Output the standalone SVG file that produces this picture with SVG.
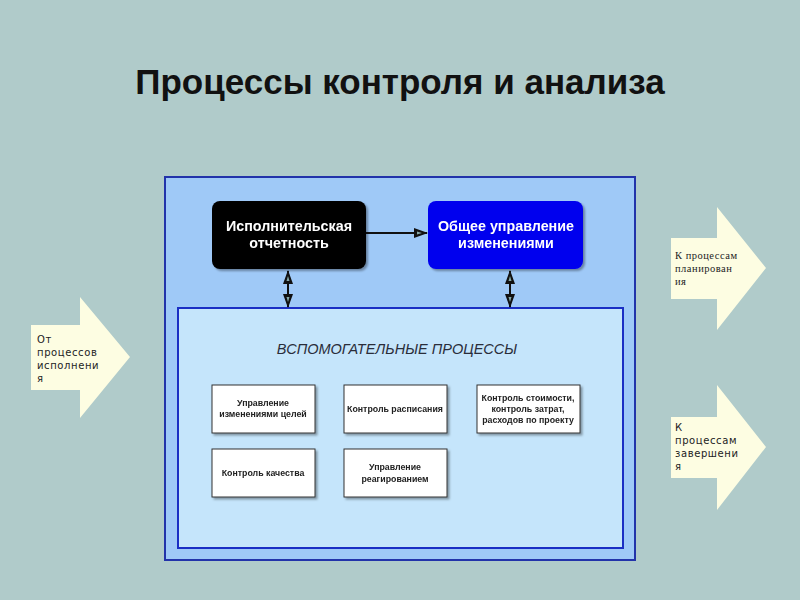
<svg xmlns="http://www.w3.org/2000/svg" width="800" height="600" viewBox="0 0 800 600">
<defs>
<style>
.title{font-family:"Liberation Sans",Arial,sans-serif;font-size:35px;font-weight:bold;fill:#111;text-anchor:middle}
.big{font-family:"Liberation Sans",Arial,sans-serif;font-size:14.3px;font-weight:bold;fill:#fff;text-anchor:middle}
.small{font-family:"Liberation Sans",Arial,sans-serif;font-size:8.8px;font-weight:bold;fill:#222;text-anchor:middle}
.arrtxt{font-family:"DejaVu Sans",Verdana,sans-serif;font-size:10px;fill:#222;letter-spacing:0.6px}
.arrser{font-family:"Liberation Serif","Times New Roman",serif;font-size:10.5px;fill:#222;letter-spacing:0.5px}
.sub{font-family:"Liberation Sans",Arial,sans-serif;font-size:14.5px;font-style:italic;fill:#2a2d3a;text-anchor:middle}
.sbox{fill:#fff;stroke:#333;stroke-width:1}
.blk{fill:none;stroke:#111;stroke-width:2}
.yarrow{fill:#fdfde2}
</style>
<filter id="sh" x="-10%" y="-10%" width="130%" height="130%">
<feDropShadow dx="2" dy="2" stdDeviation="1.2" flood-color="#000" flood-opacity="0.35"/>
</filter>
<marker id="ah" viewBox="0 0 14 10" refX="13" refY="5" markerWidth="14" markerHeight="10" markerUnits="userSpaceOnUse" orient="auto-start-reverse">
<path d="M0,0 L14,5 L0,10 Z" fill="#111"/>
<path d="M3,3.5 L8,5 L3,6.5 Z" fill="#8aa"/>
</marker>
</defs>
<rect width="800" height="600" fill="#b0cbca"/>
<text class="title" x="400" y="94">Процессы контроля и анализа</text>

<g id="outer-panel">
<rect x="165" y="177" width="470" height="383" fill="#9fc9f7" stroke="#2233aa" stroke-width="2"/>
</g>
<g id="inner-panel">
<rect x="178" y="308" width="445" height="240" fill="#c5e5fb" stroke="#1a2ec4" stroke-width="2"/>
<text class="sub" x="397" y="354">ВСПОМОГАТЕЛЬНЫЕ ПРОЦЕССЫ</text>
</g>

<g id="connectors">
<line class="blk" x1="366" y1="233" x2="427" y2="233" marker-end="url(#ah)"/>
<line class="blk" x1="288" y1="271" x2="288" y2="307" marker-start="url(#ah)" marker-end="url(#ah)"/>
<line class="blk" x1="510" y1="271" x2="510" y2="307" marker-start="url(#ah)" marker-end="url(#ah)"/>
</g>

<g id="exec-report" filter="url(#sh)">
<rect x="212" y="201" width="154" height="68" rx="8" fill="#050505"/>
<text class="big" x="289" y="231">Исполнительская</text>
<text class="big" x="289" y="248">отчетность</text>
</g>
<g id="change-mgmt" filter="url(#sh)">
<rect x="428" y="201" width="155" height="68" rx="8" fill="#0000ee"/>
<text class="big" x="506" y="231">Общее управление</text>
<text class="big" x="506" y="248">изменениями</text>
</g>

<g id="box-goals" filter="url(#sh)">
<rect class="sbox" x="212" y="385" width="103" height="48"/>
<text class="small" x="263" y="406">Управление</text>
<text class="small" x="263" y="417">изменениями целей</text>
</g>
<g id="box-schedule" filter="url(#sh)">
<rect class="sbox" x="344" y="385" width="103" height="48"/>
<text class="small" x="395" y="412">Контроль расписания</text>
</g>
<g id="box-cost" filter="url(#sh)">
<rect class="sbox" x="477" y="385" width="103" height="48"/>
<text class="small" x="528" y="401">Контроль стоимости,</text>
<text class="small" x="528" y="412">контроль затрат,</text>
<text class="small" x="528" y="423">расходов по проекту</text>
</g>
<g id="box-quality" filter="url(#sh)">
<rect class="sbox" x="212" y="449" width="103" height="48"/>
<text class="small" x="263" y="476">Контроль качества</text>
</g>
<g id="box-response" filter="url(#sh)">
<rect class="sbox" x="344" y="449" width="103" height="48"/>
<text class="small" x="395" y="470">Управление</text>
<text class="small" x="395" y="482">реагированием</text>
</g>

<g id="from-execution">
<path class="yarrow" d="M31,325 L80,325 L80,297 L130,357 L80,418 L80,390 L31,390 Z"/>
<text class="arrtxt" x="37" y="343">От</text>
<text class="arrtxt" x="37" y="356">процессов</text>
<text class="arrtxt" x="37" y="369">исполнени</text>
<text class="arrtxt" x="37" y="382">я</text>
</g>
<g id="to-planning">
<path class="yarrow" d="M671,238 L717,238 L717,207 L766,268 L717,330 L717,299 L671,299 Z"/>
<text class="arrser" x="675" y="259">К процессам</text>
<text class="arrser" x="675" y="272">планирован</text>
<text class="arrser" x="675" y="285">ия</text>
</g>
<g id="to-closing">
<path class="yarrow" d="M671,417 L717,417 L717,385 L766,447 L717,510 L717,478 L671,478 Z"/>
<text class="arrtxt" x="675" y="431">К</text>
<text class="arrtxt" x="675" y="444">процессам</text>
<text class="arrtxt" x="675" y="457">завершени</text>
<text class="arrtxt" x="675" y="470">я</text>
</g>
</svg>
